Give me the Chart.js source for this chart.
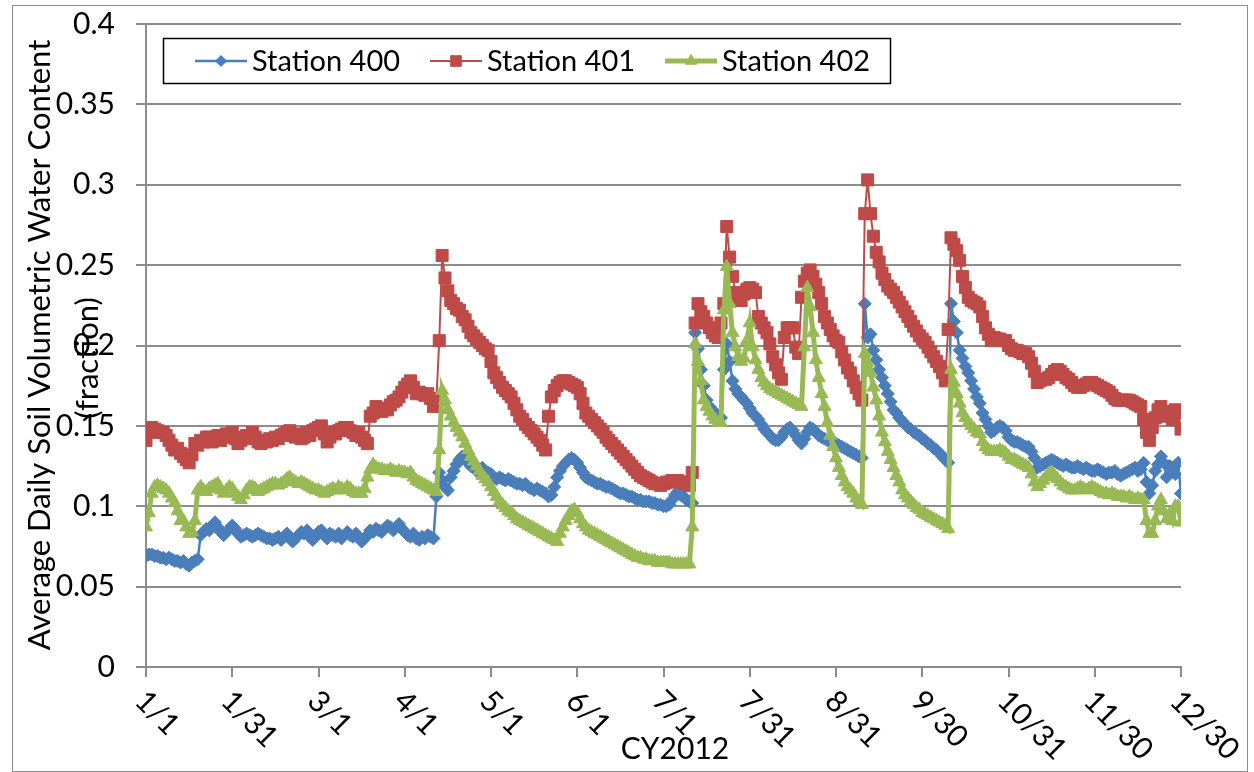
<!DOCTYPE html>
<html>
<head>
<meta charset="utf-8">
<title>Average Daily Soil Volumetric Water Content CY2012</title>
<script src="https://cdn.jsdelivr.net/npm/chart.js@4.4.1/dist/chart.umd.min.js"></script>
<style>
  html, body { margin: 0; padding: 0; background: #fff; }
  #wrap { width: 1254px; height: 772px; position: relative; }
</style>
</head>
<body>
<div id="wrap"><canvas id="soilChart" width="1254" height="772"></canvas></div>
<script>
// Axis ticks (day index from 1/1, one category per day)
const tickDays = [0, 30, 60, 90, 120, 150, 180, 210, 240, 270, 300, 330, 360];
const tickLabels = ['1/1', '1/31', '3/1', '4/1', '5/1', '6/1', '7/1', '7/31', '8/31', '9/30', '10/31', '11/30', '12/30'];
const seriesNames = ['Station 400', 'Station 401', 'Station 402'];

// Station 400 - daily values, 10 per row
const station400 = [
  0.069, 0.070, 0.070, 0.069, 0.069, 0.068, 0.068, 0.067, 0.068, 0.067,
  0.066, 0.066, 0.065, 0.066, 0.064, 0.063, 0.065, 0.066, 0.067, 0.082,
  0.084, 0.086, 0.085, 0.088, 0.090, 0.087, 0.084, 0.082, 0.084, 0.086,
  0.088, 0.086, 0.083, 0.081, 0.082, 0.083, 0.082, 0.081, 0.082, 0.083,
  0.082, 0.081, 0.080, 0.080, 0.079, 0.080, 0.081, 0.079, 0.081, 0.083,
  0.080, 0.078, 0.080, 0.082, 0.084, 0.083, 0.085, 0.081, 0.079, 0.081,
  0.084, 0.085, 0.082, 0.080, 0.083, 0.082, 0.081, 0.083, 0.080, 0.082,
  0.084, 0.082, 0.081, 0.083, 0.080, 0.078, 0.080, 0.082, 0.085, 0.084,
  0.086, 0.085, 0.084, 0.086, 0.088, 0.087, 0.085, 0.087, 0.089, 0.086,
  0.084, 0.082, 0.081, 0.083, 0.080, 0.079, 0.081, 0.080, 0.082, 0.081,
  0.080, 0.106, 0.121, 0.116, 0.112, 0.110, 0.118, 0.122, 0.126, 0.129,
  0.131, 0.129, 0.127, 0.125, 0.124, 0.122, 0.123, 0.124, 0.122, 0.121,
  0.120, 0.118, 0.117, 0.118, 0.117, 0.116, 0.117, 0.116, 0.115, 0.114,
  0.114, 0.113, 0.114, 0.112, 0.111, 0.110, 0.111, 0.110, 0.109, 0.108,
  0.106, 0.107, 0.112, 0.118, 0.122, 0.125, 0.127, 0.129, 0.130, 0.129,
  0.127, 0.124, 0.121, 0.118, 0.117, 0.116, 0.115, 0.114, 0.114, 0.113,
  0.112, 0.112, 0.111, 0.110, 0.109, 0.108, 0.108, 0.107, 0.106, 0.106,
  0.105, 0.104, 0.104, 0.103, 0.103, 0.103, 0.102, 0.102, 0.101, 0.101,
  0.100, 0.100, 0.101, 0.104, 0.107, 0.109, 0.107, 0.106, 0.104, 0.103,
  0.102, 0.208, 0.198, 0.185, 0.175, 0.166, 0.162, 0.160, 0.158, 0.156,
  0.155, 0.185, 0.201, 0.190, 0.178, 0.173, 0.170, 0.168, 0.166, 0.164,
  0.161, 0.158, 0.156, 0.154, 0.151, 0.148, 0.146, 0.144, 0.142, 0.141,
  0.141, 0.143, 0.146, 0.148, 0.149, 0.147, 0.144, 0.141, 0.139, 0.142,
  0.146, 0.149, 0.148, 0.146, 0.144, 0.143, 0.142, 0.141, 0.140, 0.139,
  0.139, 0.138, 0.137, 0.136, 0.135, 0.134, 0.133, 0.132, 0.131, 0.130,
  0.226, 0.205, 0.207, 0.197, 0.191, 0.185, 0.180, 0.175, 0.170, 0.165,
  0.160, 0.158, 0.155, 0.153, 0.151, 0.149, 0.148, 0.146, 0.145, 0.144,
  0.142, 0.141, 0.139, 0.138, 0.136, 0.135, 0.133, 0.131, 0.129, 0.127,
  0.226, 0.215, 0.208, 0.197, 0.192, 0.187, 0.183, 0.178, 0.173, 0.168,
  0.164, 0.158, 0.154, 0.150, 0.146, 0.147, 0.149, 0.150, 0.149, 0.147,
  0.143, 0.141, 0.140, 0.140, 0.139, 0.138, 0.137, 0.137, 0.134, 0.130,
  0.124, 0.125, 0.126, 0.127, 0.128, 0.129, 0.128, 0.127, 0.126, 0.125,
  0.126, 0.125, 0.124, 0.124, 0.125, 0.124, 0.123, 0.124, 0.123, 0.122,
  0.122, 0.123, 0.122, 0.121, 0.120, 0.121, 0.121, 0.122, 0.120, 0.119,
  0.120, 0.121, 0.122, 0.123, 0.124, 0.122, 0.123, 0.127, 0.115, 0.108,
  0.113, 0.122, 0.126, 0.131, 0.127, 0.118, 0.125, 0.124, 0.120, 0.127, 0.108
];

// Station 401
const station401 = [
  0.141, 0.146, 0.149, 0.148, 0.147, 0.146, 0.146, 0.144, 0.141, 0.138,
  0.135, 0.136, 0.133, 0.131, 0.129, 0.127, 0.132, 0.139, 0.138, 0.141,
  0.140, 0.143, 0.143, 0.140, 0.142, 0.144, 0.141, 0.143, 0.145, 0.144,
  0.146, 0.142, 0.139, 0.141, 0.143, 0.144, 0.142, 0.146, 0.143, 0.140,
  0.139, 0.141, 0.140, 0.142, 0.141, 0.143, 0.142, 0.144, 0.145, 0.146,
  0.147, 0.144, 0.143, 0.145, 0.142, 0.143, 0.146, 0.144, 0.147, 0.148,
  0.149, 0.150, 0.145, 0.140, 0.143, 0.146, 0.145, 0.147, 0.148, 0.149,
  0.149, 0.147, 0.146, 0.144, 0.146, 0.143, 0.141, 0.139, 0.156, 0.158,
  0.162, 0.161, 0.159, 0.160, 0.160, 0.163, 0.165, 0.166, 0.168, 0.171,
  0.174, 0.176, 0.178, 0.174, 0.170, 0.171, 0.170, 0.169, 0.170, 0.167,
  0.162, 0.166, 0.203, 0.256, 0.242, 0.234, 0.228, 0.226, 0.223, 0.222,
  0.218, 0.216, 0.212, 0.208, 0.206, 0.204, 0.202, 0.200, 0.198, 0.197,
  0.190, 0.183, 0.180, 0.177, 0.174, 0.172, 0.170, 0.168, 0.164, 0.160,
  0.156, 0.154, 0.151, 0.149, 0.147, 0.145, 0.143, 0.141, 0.138, 0.135,
  0.156, 0.168, 0.172, 0.175, 0.177, 0.178, 0.178, 0.177, 0.176, 0.175,
  0.174, 0.170, 0.164, 0.158, 0.156, 0.154, 0.152, 0.150, 0.148, 0.146,
  0.143, 0.141, 0.139, 0.137, 0.135, 0.133, 0.131, 0.129, 0.127, 0.125,
  0.123, 0.121, 0.119, 0.118, 0.117, 0.116, 0.115, 0.114, 0.114, 0.113,
  0.114, 0.115, 0.115, 0.116, 0.116, 0.116, 0.115, 0.115, 0.114, 0.113,
  0.121, 0.214, 0.226, 0.221, 0.218, 0.214, 0.211, 0.208, 0.206, 0.205,
  0.214, 0.226, 0.274, 0.255, 0.243, 0.233, 0.230, 0.228, 0.232, 0.235,
  0.236, 0.235, 0.233, 0.218, 0.214, 0.211, 0.208, 0.201, 0.193, 0.188,
  0.183, 0.179, 0.205, 0.211, 0.211, 0.211, 0.199, 0.195, 0.230, 0.240,
  0.245, 0.247, 0.243, 0.238, 0.233, 0.226, 0.218, 0.214, 0.210, 0.206,
  0.203, 0.202, 0.196, 0.191, 0.186, 0.183, 0.178, 0.174, 0.170, 0.166,
  0.282, 0.303, 0.282, 0.268, 0.258, 0.252, 0.245, 0.241, 0.237, 0.235,
  0.233, 0.230, 0.227, 0.224, 0.221, 0.218, 0.215, 0.212, 0.209, 0.206,
  0.204, 0.202, 0.199, 0.196, 0.193, 0.190, 0.187, 0.183, 0.178, 0.210,
  0.267, 0.263, 0.259, 0.253, 0.243, 0.236, 0.230, 0.228, 0.227, 0.226,
  0.224, 0.218, 0.211, 0.207, 0.203, 0.205, 0.204, 0.204, 0.203, 0.203,
  0.200, 0.198, 0.197, 0.197, 0.196, 0.195, 0.195, 0.193, 0.189, 0.184,
  0.177, 0.178, 0.179, 0.179, 0.180, 0.182, 0.184, 0.185, 0.184, 0.182,
  0.180, 0.179, 0.177, 0.175, 0.174, 0.174, 0.175, 0.176, 0.177, 0.177,
  0.176, 0.175, 0.174, 0.173, 0.172, 0.171, 0.169, 0.167, 0.166, 0.166,
  0.166, 0.166, 0.166, 0.165, 0.164, 0.163, 0.162, 0.154, 0.146, 0.141,
  0.149, 0.155, 0.160, 0.162, 0.159, 0.156, 0.158, 0.154, 0.160, 0.158, 0.148
];

// Station 402
const station402 = [
  0.087, 0.096, 0.108, 0.112, 0.113, 0.112, 0.111, 0.110, 0.108, 0.105,
  0.102, 0.097, 0.091, 0.091, 0.087, 0.083, 0.084, 0.091, 0.110, 0.112,
  0.110, 0.109, 0.111, 0.112, 0.113, 0.114, 0.110, 0.108, 0.110, 0.112,
  0.111, 0.108, 0.106, 0.104, 0.107, 0.110, 0.112, 0.112, 0.111, 0.109,
  0.110, 0.111, 0.112, 0.113, 0.114, 0.114, 0.113, 0.114, 0.115, 0.117,
  0.118, 0.116, 0.115, 0.114, 0.115, 0.114, 0.113, 0.112, 0.111, 0.110,
  0.110, 0.109, 0.108, 0.109, 0.110, 0.111, 0.110, 0.112, 0.111, 0.110,
  0.112, 0.111, 0.109, 0.108, 0.108, 0.108, 0.111, 0.118, 0.123, 0.126,
  0.124, 0.123, 0.123, 0.122, 0.122, 0.123, 0.122, 0.121, 0.122, 0.121,
  0.121, 0.120, 0.121, 0.118, 0.116, 0.115, 0.114, 0.113, 0.112, 0.111,
  0.110, 0.109, 0.135, 0.172, 0.166, 0.160, 0.156, 0.152, 0.149, 0.146,
  0.143, 0.139, 0.135, 0.131, 0.128, 0.125, 0.122, 0.119, 0.117, 0.115,
  0.112, 0.109, 0.106, 0.103, 0.101, 0.099, 0.097, 0.096, 0.094, 0.092,
  0.091, 0.090, 0.089, 0.088, 0.087, 0.086, 0.085, 0.084, 0.083, 0.082,
  0.081, 0.080, 0.079, 0.078, 0.083, 0.087, 0.091, 0.094, 0.097, 0.098,
  0.096, 0.092, 0.089, 0.087, 0.085, 0.084, 0.083, 0.082, 0.081, 0.080,
  0.079, 0.078, 0.077, 0.076, 0.075, 0.074, 0.073, 0.072, 0.071, 0.070,
  0.069, 0.068, 0.068, 0.067, 0.067, 0.066, 0.066, 0.066, 0.065, 0.065,
  0.065, 0.065, 0.065, 0.064, 0.064, 0.064, 0.064, 0.064, 0.064, 0.064,
  0.087, 0.201, 0.190, 0.178, 0.166, 0.162, 0.159, 0.156, 0.154, 0.152,
  0.152, 0.222, 0.249, 0.226, 0.208, 0.199, 0.193, 0.190, 0.192, 0.203,
  0.214, 0.199, 0.191, 0.185, 0.180, 0.177, 0.175, 0.173, 0.172, 0.171,
  0.170, 0.169, 0.168, 0.167, 0.166, 0.165, 0.164, 0.163, 0.162, 0.199,
  0.236, 0.224, 0.208, 0.191, 0.180, 0.170, 0.162, 0.152, 0.144, 0.137,
  0.130, 0.124, 0.119, 0.115, 0.112, 0.110, 0.108, 0.105, 0.103, 0.101,
  0.195, 0.189, 0.183, 0.174, 0.166, 0.156, 0.146, 0.140, 0.134, 0.129,
  0.124, 0.119, 0.115, 0.110, 0.107, 0.105, 0.103, 0.101, 0.099, 0.098,
  0.096, 0.095, 0.094, 0.093, 0.092, 0.091, 0.090, 0.089, 0.088, 0.086,
  0.185, 0.177, 0.170, 0.164, 0.158, 0.155, 0.152, 0.150, 0.148, 0.146,
  0.145, 0.140, 0.137, 0.135, 0.134, 0.134, 0.134, 0.135, 0.134, 0.133,
  0.131, 0.129, 0.129, 0.128, 0.127, 0.126, 0.125, 0.124, 0.120, 0.115,
  0.112, 0.114, 0.116, 0.118, 0.120, 0.121, 0.119, 0.117, 0.115, 0.113,
  0.112, 0.111, 0.110, 0.110, 0.111, 0.112, 0.111, 0.110, 0.111, 0.112,
  0.111, 0.110, 0.109, 0.108, 0.108, 0.107, 0.108, 0.107, 0.106, 0.106,
  0.106, 0.105, 0.106, 0.105, 0.104, 0.105, 0.104, 0.104, 0.091, 0.083,
  0.083, 0.091, 0.100, 0.104, 0.097, 0.092, 0.095, 0.091, 0.100, 0.100, 0.090
];

// Styling
const FONT_FAMILY = 'Lato, "Open Sans", sans-serif';
const FONT_SIZE = 30;
const GRID_COLOR = '#8c8c8c';
const colors = { s400: '#4A7EBB', s401: '#BE4B48', s402: '#98B954' };

// day index -> {x, y}
function toPoints(values) {
    return values.map((v, i) => ({ x: i, y: v }));
}

// Legend, rotated date labels, axis titles and outer frame
const decorations = {
    id: 'decorations',
    afterDraw(chart) {
        const ctx = chart.ctx;
        const xScale = chart.scales.x;
        ctx.save();
        ctx.font = `${FONT_SIZE}px ${FONT_FAMILY}`;
        ctx.fillStyle = '#000';

        // x tick labels, slanted down to the right
        ctx.textAlign = 'left';
        ctx.textBaseline = 'middle';
        tickDays.forEach((d, i) => {
            const px = xScale.getPixelForValue(d);
            ctx.save();
            ctx.translate(px - 6, xScale.top + 29);
            ctx.rotate(Math.PI / 4);
            ctx.fillText(tickLabels[i], 0, 0);
            ctx.restore();
        });

        // x title
        ctx.textAlign = 'center';
        ctx.fillText('CY2012', 675, 749);

        // y title (two lines)
        ctx.font = `31px ${FONT_FAMILY}`;
        ctx.save();
        ctx.translate(40, 345);
        ctx.rotate(-Math.PI / 2);
        ctx.fillText('Average Daily Soil Volumetric Water Content', 0, 0);
        ctx.restore();
        ctx.save();
        ctx.translate(88, 358);
        ctx.rotate(-Math.PI / 2);
        ctx.fillText('(fraction)', 0, 0);
        ctx.restore();

        // legend box
        ctx.fillStyle = '#fff';
        ctx.fillRect(163, 38, 727, 45);
        ctx.strokeStyle = '#000';
        ctx.lineWidth = 1.5;
        ctx.strokeRect(163.5, 38.5, 727, 45);

        ctx.font = `29px ${FONT_FAMILY}`;
        const legendX = [195, 430, 665];
        const legendY = 61;
        chart.data.datasets.forEach((ds, i) => {
            const x0 = legendX[i];
            ctx.strokeStyle = ds.borderColor;
            ctx.lineWidth = ds.borderWidth;
            ctx.beginPath();
            ctx.moveTo(x0, legendY);
            ctx.lineTo(x0 + 52, legendY);
            ctx.stroke();
            ctx.fillStyle = ds.pointBackgroundColor;
            ctx.strokeStyle = ds.pointBorderColor;
            ctx.lineWidth = 1;
            Chart.helpers.drawPoint(ctx, {
                pointStyle: ds.pointStyle,
                radius: ds.pointRadius - 1,
                borderWidth: 1,
                rotation: 0
            }, x0 + 26, legendY);
            ctx.fillStyle = '#000';
            ctx.textAlign = 'left';
            ctx.textBaseline = 'middle';
            ctx.fillText(ds.label, x0 + 57, legendY + 1);
        });

        // outer frame
        ctx.strokeStyle = '#8c8c8c';
        ctx.lineWidth = 1;
        ctx.strokeRect(12.5, 5.5, 1235, 766);
        ctx.restore();
    }
};

function makeDataset(label, values, color, style, radius, width, order) {
    return {
        label: label,
        data: toPoints(values),
        borderColor: color,
        backgroundColor: color,
        pointBackgroundColor: color,
        pointBorderColor: color,
        pointBorderWidth: 1,
        pointStyle: style,
        pointRadius: radius,
        borderWidth: width,
        tension: 0,
        order: order
    };
}

document.addEventListener('DOMContentLoaded', () => {
    const ctx = document.getElementById('soilChart').getContext('2d');
    new Chart(ctx, {
        type: 'line',
        data: {
            datasets: [
                makeDataset(seriesNames[0], station400, colors.s400, 'rectRot', 6.5, 2.5, 2),
                makeDataset(seriesNames[1], station401, colors.s401, 'rect', 8.5, 2, 1),
                makeDataset(seriesNames[2], station402, colors.s402, 'triangle', 7.5, 5, 0)
            ]
        },
        options: {
            responsive: false,
            animation: false,
            devicePixelRatio: 1,
            events: [],
            layout: { autoPadding: false, padding: { left: 0, right: 73, top: 24, bottom: 0 } },
            plugins: {
                legend: { display: false },
                tooltip: { enabled: false }
            },
            scales: {
                x: {
                    type: 'linear',
                    min: 0,
                    max: 360,
                    afterBuildTicks: (scale) => {
                        scale.ticks = tickDays.map(v => ({ value: v }));
                    },
                    afterFit: (scale) => { scale.height = 105; },
                    ticks: { display: false },
                    grid: {
                        drawOnChartArea: false,
                        drawTicks: true,
                        tickLength: 10,
                        color: GRID_COLOR,
                        lineWidth: 2
                    },
                    border: { color: GRID_COLOR, width: 2 }
                },
                y: {
                    min: 0,
                    max: 0.4,
                    afterFit: (scale) => { scale.width = 146; },
                    ticks: {
                        stepSize: 0.05,
                        padding: 21,
                        color: '#000',
                        // small lineHeight keeps the label padding from pushing the plot top down
                        font: { family: FONT_FAMILY, size: FONT_SIZE, lineHeight: 0.1 },
                        callback: (v) => String(+Number(v).toFixed(2))
                    },
                    grid: {
                        color: GRID_COLOR,
                        lineWidth: 2,
                        drawTicks: true,
                        tickLength: 10
                    },
                    border: { color: GRID_COLOR, width: 2 }
                }
            }
        },
        plugins: [decorations]
    });
});
</script>
</body>
</html>
